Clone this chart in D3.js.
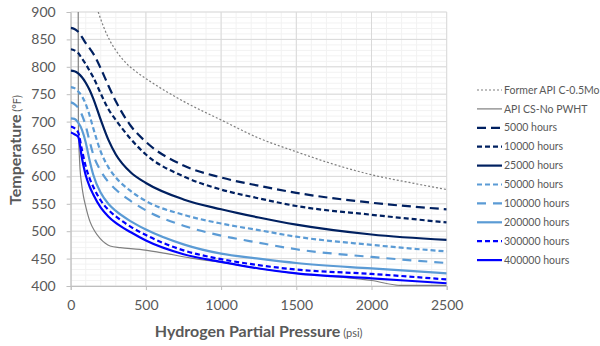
<!DOCTYPE html>
<html>
<head>
<meta charset="utf-8">
<script src="https://cdn.jsdelivr.net/npm/d3@7"></script>
<style>
  body { margin: 0; background: #fff; }
  text { font-family: Lato, "Open Sans", sans-serif; fill: #595959; }
</style>
</head>
<body>
<div id="vis"></div>
<script>
// hydrogen partial pressure (psi) where the time curves are read
var pressure = [0, 25, 50, 75, 100, 125, 150, 200, 250, 300, 400, 500, 750, 1000, 1250, 1500, 2000, 2500];

// temperature (F) for each exposure time
var t5000   = [871, 869, 864, 854, 843, 834, 824, 797, 766, 737, 692, 663, 620, 598, 583, 570, 552, 540];
var t10000  = [832, 830, 825, 815, 805, 793, 781, 751, 723, 703, 668, 640, 600, 576, 560, 546, 530, 516];
var t25000  = [793, 792, 788, 781, 771, 758, 742, 703, 667, 640, 607, 588, 558, 540, 525, 512, 494, 484];
var t50000  = [763, 761, 755, 746, 732, 712, 688, 645, 617, 598, 573, 555, 530, 514, 502, 490, 475, 463];
var t100000 = [735, 732, 725, 712, 692, 665, 640, 610, 590, 576, 555, 538, 510, 492, 479, 467, 453, 442];
var t200000 = [706, 705, 698, 685, 662, 630, 603, 570, 550, 537, 518, 503, 476, 459, 450, 442, 432, 423];
var t300000 = [691, 688, 680, 648, 618, 597, 581, 556, 539, 527, 508, 493, 465, 449, 438, 430, 422, 412];
var t400000 = [680, 677, 672, 633, 602, 582, 567, 543, 527, 515, 498, 483, 458, 444, 432, 423, 414, 405];

// older API curves, read on their own pressure points
var formerPsi = [183, 220, 260, 300, 375, 450, 530, 750, 1000, 1250, 1500, 1750, 2000, 2250, 2500];
var formerT   = [900, 872, 848, 830, 805, 788, 773, 737, 703, 670, 645, 622, 603, 589, 576];
var csPsi = [50, 51, 54, 58, 62, 72, 84, 100, 129, 160, 195, 230, 262, 330, 460, 600, 800, 1000, 1500, 1800, 2000, 2200, 2500];
var csT   = [900, 700, 660, 635, 614, 587, 565, 545, 517, 500, 487, 478, 473, 470, 467, 461, 451, 443, 423, 416, 410, 401, 401];

var xTicks = [0, 500, 1000, 1500, 2000, 2500];
var yTicks = [400, 450, 500, 550, 600, 650, 700, 750, 800, 850, 900];

var navy = "#002060", light = "#5b9bd5", blue = "#0000ff", grey = "#7f7f7f";

var series = [
  {name: "Former API C-0.5Mo", psi: formerPsi, temp: formerT, color: grey, width: 1.2, dash: "2,2"},
  {name: "API CS-No PWHT", psi: csPsi, temp: csT, color: grey, width: 1.2, dash: null},
  {name: "5000 hours", psi: pressure, temp: t5000, color: navy, width: 2.2, dash: "9,5"},
  {name: "10000 hours", psi: pressure, temp: t10000, color: navy, width: 2.2, dash: "5,3"},
  {name: "25000 hours", psi: pressure, temp: t25000, color: navy, width: 2.2, dash: null},
  {name: "50000 hours", psi: pressure, temp: t50000, color: light, width: 2.2, dash: "5,3"},
  {name: "100000 hours", psi: pressure, temp: t100000, color: light, width: 2.2, dash: "9,7"},
  {name: "200000 hours", psi: pressure, temp: t200000, color: light, width: 2.2, dash: null},
  {name: "300000 hours", psi: pressure, temp: t300000, color: blue, width: 2.2, dash: "5,3"},
  {name: "400000 hours", psi: pressure, temp: t400000, color: blue, width: 2.2, dash: null}
];

var width = 600, height = 346;
var margin = {top: 12, left: 70.7, right: 153.3, bottom: 60};
var plotW = width - margin.left - margin.right;
var plotH = height - margin.top - margin.bottom;

var svg = d3.select('#vis')
  .append('svg')
  .attr('width', width)
  .attr('height', height);

var x = d3.scaleLinear().domain([0, 2500]).range([margin.left, margin.left + plotW]);
var y = d3.scaleLinear().domain([400, 900]).range([margin.top + plotH, margin.top]);

svg.append('clipPath').attr('id', 'plot-clip')
  .append('rect')
  .attr('x', margin.left).attr('y', margin.top)
  .attr('width', plotW).attr('height', plotH);

// minor grid every 100 psi / 10 F, major every 500 psi / 50 F
var grid = svg.append('g');
grid.selectAll('.vminor')
  .data(d3.range(0, 2501, 100))
  .enter().append('line')
  .attr('x1', function(d) { return x(d); }).attr('x2', function(d) { return x(d); })
  .attr('y1', y(400)).attr('y2', y(900))
  .attr('stroke', '#f2f2f2');
grid.selectAll('.hminor')
  .data(d3.range(400, 901, 10))
  .enter().append('line')
  .attr('y1', function(d) { return y(d); }).attr('y2', function(d) { return y(d); })
  .attr('x1', x(0)).attr('x2', x(2500))
  .attr('stroke', '#f2f2f2');
grid.selectAll('.vmajor')
  .data(xTicks)
  .enter().append('line')
  .attr('x1', function(d) { return x(d); }).attr('x2', function(d) { return x(d); })
  .attr('y1', y(400)).attr('y2', y(900))
  .attr('stroke', '#d9d9d9');
grid.selectAll('.hmajor')
  .data(yTicks)
  .enter().append('line')
  .attr('y1', function(d) { return y(d); }).attr('y2', function(d) { return y(d); })
  .attr('x1', x(0)).attr('x2', x(2500))
  .attr('stroke', '#d9d9d9');

// axes
var xAxis = svg.append('g')
  .attr('transform', 'translate(0,' + y(400) + ')')
  .call(d3.axisBottom(x).tickValues(xTicks).tickFormat(d3.format('d')).tickSize(4).tickPadding(10));
var yAxis = svg.append('g')
  .attr('transform', 'translate(' + x(0) + ',0)')
  .call(d3.axisLeft(y).tickValues(yTicks).tickSize(4).tickPadding(11));
[xAxis, yAxis].forEach(function(a) {
  a.select('.domain').attr('stroke', '#bfbfbf');
  a.selectAll('.tick line').attr('stroke', '#bfbfbf');
  a.selectAll('.tick text')
    .style('font-family', 'Lato, sans-serif')
    .style('font-size', '14px')
    .attr('fill', '#595959');
});

// curves
var line = d3.line()
  .x(function(d) { return x(d[0]); })
  .y(function(d) { return y(d[1]); })
  .curve(d3.curveMonotoneX);

svg.append('g')
  .attr('clip-path', 'url(#plot-clip)')
  .selectAll('path')
  .data(series)
  .enter().append('path')
  .attr('d', function(s) { return line(d3.zip(s.psi, s.temp)); })
  .attr('fill', 'none')
  .attr('stroke', function(s) { return s.color; })
  .attr('stroke-width', function(s) { return s.width; })
  .attr('stroke-dasharray', function(s) { return s.dash; });

// legend
var legend = svg.append('g')
  .selectAll('g')
  .data(series)
  .enter().append('g')
  .attr('transform', function(d, i) { return 'translate(477,' + (90 + i * 18.9) + ')'; });
legend.append('line')
  .attr('x1', 0).attr('x2', 25)
  .attr('stroke', function(s) { return s.color; })
  .attr('stroke-width', function(s) { return s.width; })
  .attr('stroke-dasharray', function(s) { return s.dash; });
legend.append('text')
  .attr('x', 27).attr('dy', '0.35em')
  .style('font-size', '10.5px')
  .text(function(s) { return s.name; });

// axis titles
var xTitle = svg.append('text')
  .attr('x', (x(0) + x(2500)) / 2)
  .attr('y', 337)
  .attr('text-anchor', 'middle');
xTitle.append('tspan').style('font-size', '16px').style('font-weight', 'bold').text('Hydrogen Partial Pressure');
xTitle.append('tspan').style('font-size', '11px').text(' (psi)');

var yTitle = svg.append('text')
  .attr('transform', 'translate(21,' + 150 + ') rotate(-90)')
  .attr('text-anchor', 'middle');
yTitle.append('tspan').style('font-size', '16px').style('font-weight', 'bold').text('Temperature');
yTitle.append('tspan').style('font-size', '11px').text(' (°F)');
</script>
</body>
</html>
